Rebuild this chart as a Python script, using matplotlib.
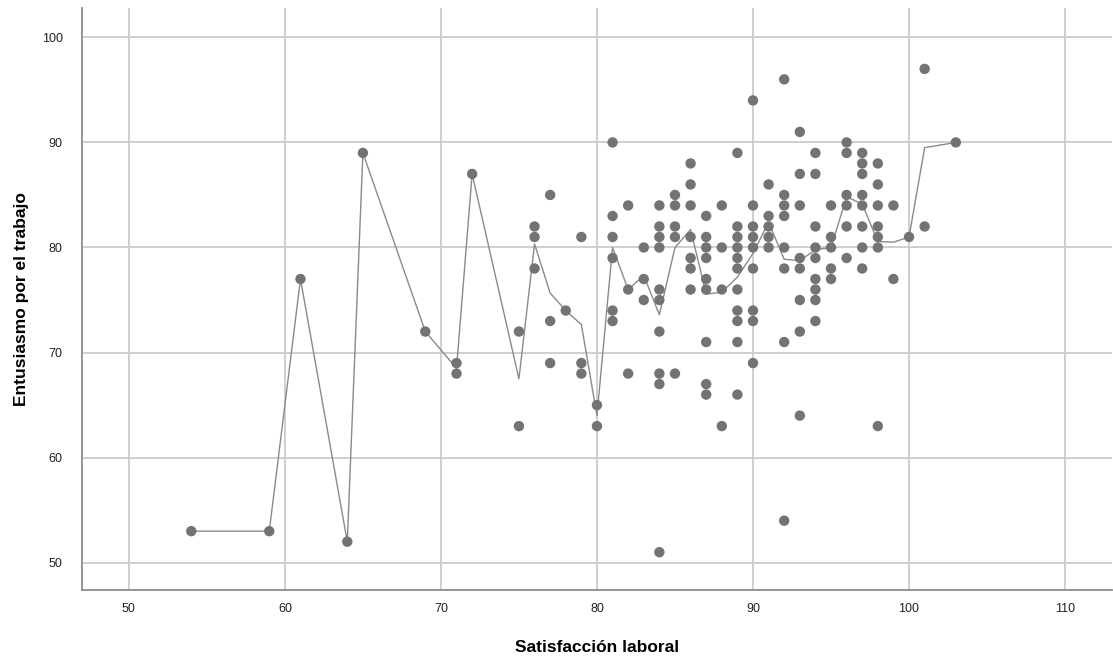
import matplotlib
matplotlib.use("Agg")
import matplotlib.pyplot as plt
import numpy as np
import pandas as pd

plt.rcParams['font.family'] = ['Liberation Sans', 'DejaVu Sans']

# Satisfacción laboral (x) -> Entusiasmo por el trabajo (y values observed)
x_values = [54, 59, 61, 64, 65, 69, 71, 72, 75, 76, 77, 78, 79, 80, 81, 82, 83, 84,
            85, 86, 87, 88, 89, 90, 91, 92, 93, 94, 95, 96, 97, 98, 99, 100, 101, 103]
y_groups = [
    [53], [53], [77], [52], [89], [72], [69, 68], [87], [72, 63],
    [82, 81, 78], [85, 73, 69], [74], [81, 69, 68], [65, 63],
    [90, 83, 81, 79, 74, 73], [84, 76, 68], [80, 77, 75],
    [84, 82, 81, 80, 76, 75, 72, 68, 67, 51],
    [85, 84, 82, 81, 68],
    [88, 86, 84, 81, 79, 78, 76],
    [83, 81, 80, 79, 77, 76, 71, 67, 66],
    [84, 80, 76, 63],
    [89, 82, 81, 80, 79, 78, 76, 74, 73, 71, 66],
    [94, 84, 82, 81, 80, 78, 74, 73, 69],
    [86, 83, 82, 81, 80],
    [96, 85, 84, 83, 80, 78, 71, 54],
    [91, 87, 84, 79, 78, 75, 72, 64],
    [89, 87, 82, 80, 79, 77, 76, 75, 73],
    [84, 81, 80, 78, 77],
    [90, 89, 85, 84, 82, 79],
    [89, 88, 87, 85, 84, 82, 80, 78],
    [88, 86, 84, 82, 81, 80, 63],
    [84, 77], [81], [97, 82], [90],
]
x_ticks = [50, 60, 70, 80, 90, 100, 110]
y_ticks = [50, 60, 70, 80, 90, 100]

rows = [(xv, yv) for xv, ys in zip(x_values, y_groups) for yv in ys]
df = pd.DataFrame(rows, columns=["sat", "ent"])
means = df.groupby("sat")["ent"].mean().sort_index()

fig = plt.figure(figsize=(11.13, 6.61), dpi=100)
ax = fig.add_axes([0.0737, 0.1074, 0.9253, 0.8806])

ax.set_xlim(47.0, 113.0)
ax.set_ylim(47.4, 102.8)
ax.set_xticks(x_ticks)
ax.set_yticks(y_ticks)
ax.grid(True, color='#cccccc', linewidth=1.3)
ax.set_axisbelow(True)

ax.plot(means.index, means.values, color='#8a8a8a', linewidth=1.0, zorder=2)
ax.scatter(df["sat"], df["ent"], s=56, color='#737373', edgecolors='none', zorder=3)

for s in ['top', 'right']:
    ax.spines[s].set_visible(False)
for s in ['left', 'bottom']:
    ax.spines[s].set_color('#8c8c8c')
    ax.spines[s].set_linewidth(1.3)

ax.tick_params(axis='both', length=0, labelsize=9, colors='#222222')
ax.tick_params(axis='x', pad=9)
ax.tick_params(axis='y', pad=14)

ax.set_xlabel('Satisfacción laboral', fontsize=12.5, fontweight='bold', labelpad=18)
ax.set_ylabel('Entusiasmo por el trabajo', fontsize=12.5, fontweight='bold', labelpad=9)

fig.savefig('out.png', dpi=100)
